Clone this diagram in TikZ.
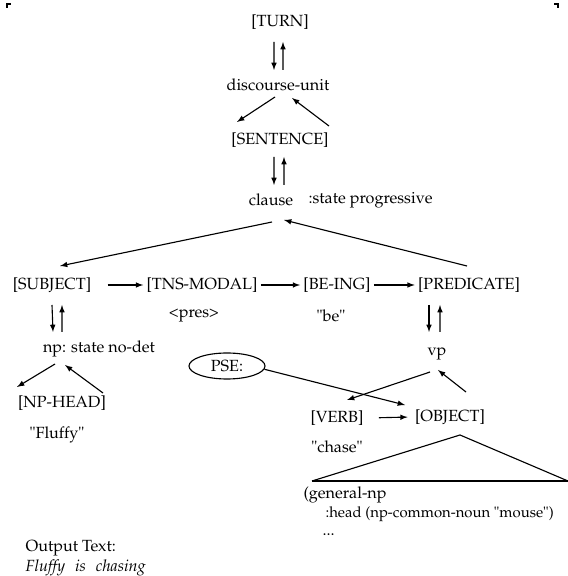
\documentclass[tikz,border=0pt]{standalone}
\usepackage[T1]{fontenc}
\usepackage{mathpazo}
\usetikzlibrary{shapes.geometric}

\begin{document}
\begin{tikzpicture}[thick, font=\fontsize{11.5}{14}\selectfont,
  lab/.style={inner sep=2pt},
  txt/.style={inner sep=0pt, anchor=west},
  oval/.style={draw, ellipse, minimum width=1.9cm, minimum height=0.65cm,
               inner sep=1pt},
  a/.style={-latex}]

  \useasboundingbox (0,0) rectangle (14.2,14.4);

  % corner marks
  \draw[line width=0.9pt] (0.175,14.2) -- (0.175,14.3) -- (0.275,14.3);
  \draw[line width=0.9pt] (13.85,14.3) -- (13.95,14.3) -- (13.95,14.2);

  \node[lab] (turn)   at (7.0,13.85)    {[TURN]};
  \node[lab] (du)     at (6.95,12.275)  {discourse-unit};
  \node[lab] (sent)   at (7.0,10.9)     {[SENTENCE]};
  \node[lab] (clause) at (6.775,9.4)    {clause};
  \node[txt] (cstate) at (7.7,9.4)      {:state progressive};
  \node[lab] (subj)   at (1.3,7.275)    {[SUBJECT]};
  \node[lab] (tns)    at (5.05,7.275)   {[TNS-MODAL]};
  \node[lab] (being)  at (8.425,7.275)  {[BE-ING]};
  \node[lab] (pred)   at (11.725,7.275) {[PREDICATE]};
  \node[lab] (pres)   at (4.85,6.5)     {\textless pres\textgreater};
  \node[lab] (be)     at (8.275,6.5)    {\textquotedbl be\textquotedbl};
  \node[lab] (np)     at (2.475,5.675)  {np: state no-det};
  \node[lab] (vp)     at (10.925,5.55)  {vp};
  \node[oval] (pse)   at (5.675,5.25)   {PSE:};
  \node[lab] (nphead) at (1.55,4.325)   {[NP-HEAD]};
  \node[lab] (fluffy) at (1.425,3.525)  {\textquotedbl Fluffy\textquotedbl};
  \node[lab] (verb)   at (8.425,3.95)   {[VERB]};
  \node[lab] (object) at (11.25,3.975)  {[OBJECT]};
  \node[lab] (chase)  at (8.425,3.225)  {\textquotedbl chase\textquotedbl};
  \node[txt] (gnp)    at (7.575,2.025)  {(general-np};
  \node[txt, font=\fontsize{10.6}{13}\selectfont] (head) at (8.125,1.55)
    {:head (np-common-noun \textquotedbl mouse\textquotedbl)};
  \node[txt] (dots)   at (8.05,1.025)   {...};
  \node[txt] (out)    at (0.625,0.7)    {Output Text:};
  \node[txt] (outtxt) at (0.625,0.2)
    {\itshape Fluffy\hspace{0.15cm} is\hspace{0.15cm} chasing};

  % top of the tree
  \draw[a] ([shift={(-0.15,-0.5)}]turn.center) -- ([shift={(-0.1,0.375)}]du.center);
  \draw[a] ([shift={(0.125,0.375)}]du.center) -- ([shift={(0.075,-0.5)}]turn.center);
  \draw[a] ([shift={(-0.075,-0.3)}]du.center) -- ([shift={(-1.075,0.45)}]sent.center);
  \draw[a] ([shift={(1.225,0.35)}]sent.center) -- ([shift={(0.35,-0.325)}]du.center);
  \draw[a] ([shift={(-0.15,-0.425)}]sent.center) -- ([shift={(0.075,0.375)}]clause.center);
  \draw[a] ([shift={(0.325,0.375)}]clause.center) -- ([shift={(0.1,-0.425)}]sent.center);
  \draw[a] ([shift={(0.025,-0.55)}]clause.center) -- ([shift={(0.2,0.475)}]subj.center);
  \draw[a] ([shift={(-0.05,0.475)}]pred.center) -- ([shift={(0.325,-0.5)}]clause.center);

  % constituent row
  \draw[a, shorten <=0.325cm] (subj.east) -- (tns.west);
  \draw[a] (tns.east) -- (being.west);
  \draw[a] (being.east) -- (pred.west);

  % subject side
  \draw[a] ([shift={(0,-0.5)}]subj.center) -- ([shift={(-1.15,0.425)}]np.center);
  \draw[a] ([shift={(-0.925,0.425)}]np.center) -- ([shift={(0.25,-0.5)}]subj.center);
  \draw[a] ([shift={(-1.1,-0.375)}]np.center) -- ([shift={(-1.125,0.4)}]nphead.center);
  \draw[a] ([shift={(1.025,0.25)}]nphead.center) -- ([shift={(-0.85,-0.4)}]np.center);

  % predicate side
  \draw[a] ([shift={(-1.0,-0.5)}]pred.center) -- ([shift={(-0.2,0.55)}]vp.center);
  \draw[a] ([shift={(0.075,0.55)}]vp.center) -- ([shift={(-0.725,-0.5)}]pred.center);
  \draw[a] ([shift={(-0.175,-0.45)}]vp.center) -- ([shift={(0.25,0.45)}]verb.center);
  \draw[a] ([shift={(0.4,0.625)}]object.center) -- ([shift={(0.025,-0.4)}]vp.center);
  \draw[a] (pse.-5) -- ([shift={(-1.125,0.3)}]object.center);
  \draw[a, shorten <=0.3cm, shorten >=0.1cm] (verb.east) -- (object.west);

  % object subtree
  \draw (7.8,2.375) -- (11.5,3.525) -- (14.2,2.375);
  \draw[line width=1.4pt] (7.8,2.375) -- (14.2,2.375);

\end{tikzpicture}
\end{document}
